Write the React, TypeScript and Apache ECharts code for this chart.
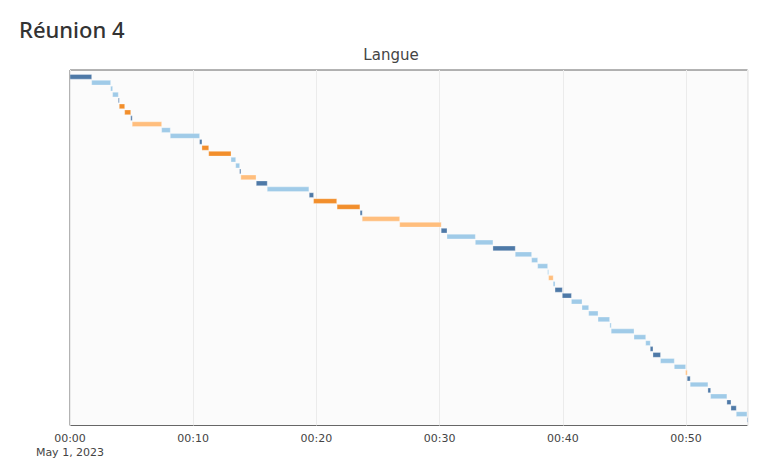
import React, { useEffect, useRef } from "react";
import * as echarts from "echarts";

// Segment start / end times in minutes from 00:00 (May 1, 2023), one row each, top to bottom
const segmentStarts = [
  0, 1.76, 3.3, 3.46, 3.92, 4.0, 4.44, 4.93, 5.05, 7.44,
  8.14, 10.52, 10.71, 11.26, 13.07, 13.45, 13.77, 13.87, 15.12, 16.01,
  19.42, 19.77, 21.68, 23.55, 23.72, 26.76, 30.13, 30.6, 32.9, 34.33,
  36.14, 37.47, 37.96, 38.77, 38.85, 39.22, 39.37, 39.96, 40.7, 41.56,
  42.1, 42.86, 43.82, 43.93, 45.78, 46.73, 47.1, 47.32, 47.93, 49.05,
  49.97, 50.1, 50.34, 51.78, 52.0, 53.32, 53.65, 54.08, 54.95,
];
const segmentEnds = [
  1.76, 3.3, 3.46, 3.92, 4.0, 4.44, 4.93, 5.05, 7.44, 8.14,
  10.52, 10.71, 11.26, 13.07, 13.45, 13.77, 13.87, 15.1, 16.01, 19.39,
  19.77, 21.65, 23.53, 23.72, 26.76, 30.13, 30.6, 32.9, 34.33, 36.14,
  37.47, 37.96, 38.77, 38.85, 39.22, 39.37, 39.96, 40.7, 41.56, 42.1,
  42.86, 43.8, 43.93, 45.78, 46.73, 47.1, 47.32, 47.93, 49.05, 49.97,
  50.1, 50.34, 51.78, 52.0, 53.32, 53.65, 54.08, 54.95, 55.4,
];
// 0 = dark blue, 1 = light blue, 2 = orange, 3 = light orange
const segmentGroups = [
  0, 1, 1, 1, 0, 2, 2, 0, 3, 1,
  1, 0, 2, 2, 1, 1, 0, 3, 0, 1,
  0, 2, 2, 0, 3, 3, 0, 1, 1, 0,
  1, 1, 1, 1, 3, 1, 0, 0, 1, 1,
  1, 1, 1, 1, 1, 1, 0, 0, 1, 1,
  3, 0, 1, 0, 1, 0, 0, 1, 0,
];
const groupColors = ["#4e79a7", "#a0cbe8", "#f28e2b", "#ffbe7d"];
const xTickMinutes = [0, 10, 20, 30, 40, 50];
const dateLabel = "May 1, 2023";
const pageTitle = "Réunion 4";
const chartTitle = "Langue";

export default function App() {
  const ref = useRef<HTMLDivElement>(null);
  useEffect(() => {
    if (!ref.current) return;
    const chart = echarts.init(ref.current, undefined, { renderer: "svg" });
    const data = segmentStarts.map((s, i) => [s, segmentEnds[i], i]);
    chart.setOption({
      animation: false,
      backgroundColor: "#ffffff",
      title: [
        {
          text: pageTitle,
          left: 14,
          top: 13,
          textStyle: { fontFamily: "Noto Sans", fontSize: 22, fontWeight: 500, color: "#333333" },
        },
        {
          text: chartTitle,
          left: 386,
          top: 42,
          textAlign: "center",
          textStyle: { fontFamily: "DejaVu Sans", fontSize: 15, fontWeight: "normal", color: "#444444" },
        },
      ],
      grid: {
        left: 70,
        top: 70,
        width: 677.6,
        height: 355.5,
        show: true,
        borderColor: "#666666",
        borderWidth: 1,
        backgroundColor: "#fbfbfb",
        containLabel: false,
      },
      xAxis: {
        type: "value",
        min: 0,
        max: 55,
        interval: 10,
        axisLine: { show: false },
        axisTick: { show: false },
        splitLine: { show: true, lineStyle: { color: "#ebebeb", width: 1 } },
        axisLabel: {
          showMaxLabel: false,
          margin: 6,
          fontFamily: "DejaVu Sans",
          fontSize: 11,
          lineHeight: 14,
          color: "#444444",
          formatter: (v: number) => {
            if (!xTickMinutes.includes(v)) return "";
            const t = "00:" + String(v).padStart(2, "0");
            return v === 0 ? t + "\n" + dateLabel : t;
          },
        },
      },
      yAxis: {
        type: "value",
        inverse: true,
        min: -1.15,
        max: 58.93,
        show: false,
        splitLine: { show: false },
      },
      series: [
        {
          type: "custom",
          clip: true,
          encode: { x: [0, 1], y: 2 },
          data,
          renderItem: (params: any, api: any) => {
            const row = api.value(2);
            const s = api.coord([api.value(0), row]);
            const e = api.coord([api.value(1), row]);
            const h = Math.abs(api.size([0, 1])[1]) * 0.8;
            const shape = echarts.graphic.clipRectByRect(
              { x: s[0], y: s[1] - h / 2, width: e[0] - s[0], height: h },
              {
                x: params.coordSys.x,
                y: params.coordSys.y,
                width: params.coordSys.width,
                height: params.coordSys.height,
              }
            );
            if (!shape) return null;
            return {
              type: "rect",
              shape,
              style: {
                fill: groupColors[segmentGroups[params.dataIndex]],
                stroke: "rgba(255,255,255,0.6)",
                lineWidth: 0.5,
              },
            };
          },
        },
      ],
    });
    return () => chart.dispose();
  }, []);
  return (
    <div
      ref={ref}
      style={{ position: "fixed", left: 0, top: 0, width: 762, height: 460 }}
    />
  );
}
